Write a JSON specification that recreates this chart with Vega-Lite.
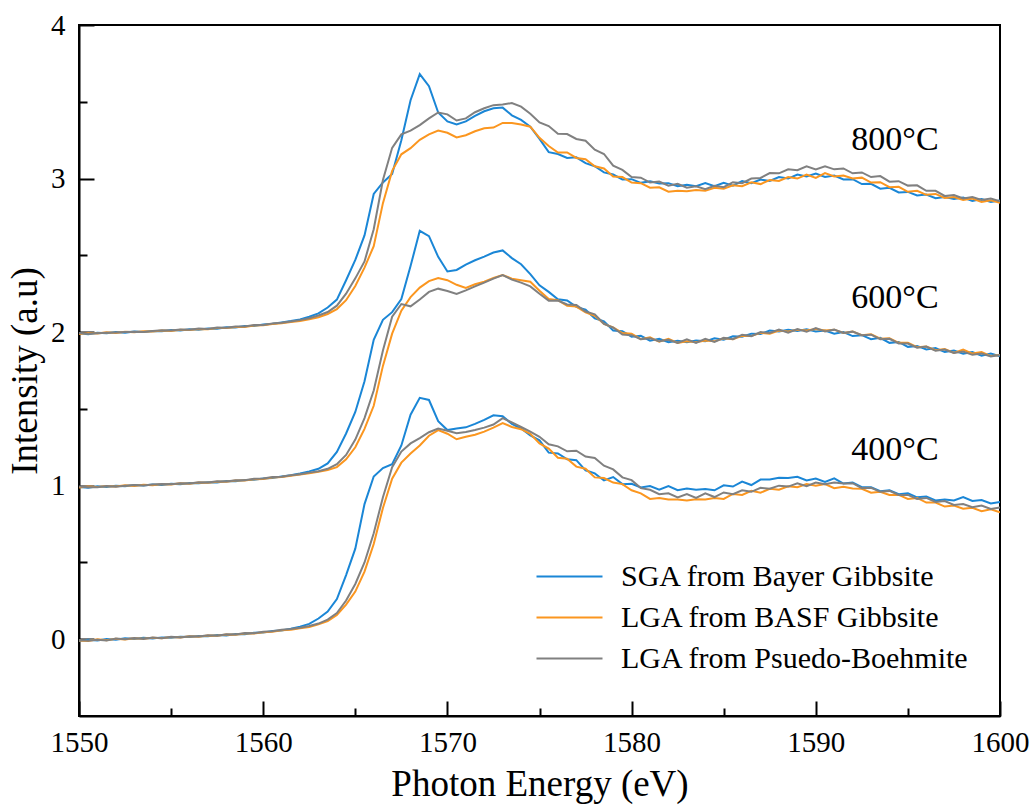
{
  "$schema": "https://vega.github.io/schema/vega-lite/v6.json",
  "width": 921,
  "height": 691,
  "autosize": "none",
  "padding": {"left": 79, "top": 25, "right": 35, "bottom": 90},
  "background": "white",
  "config": {
    "view": {"stroke": "black", "strokeWidth": 2},
    "font": "Liberation Serif",
    "axis": {"labelFont": "Liberation Serif", "titleFont": "Liberation Serif"},
    "legend": {"labelFont": "Liberation Serif", "titleFont": "Liberation Serif"},
    "text": {"font": "Liberation Serif"},
    "style": {"guide-label": {"font": "Liberation Serif"}, "guide-title": {"font": "Liberation Serif"}}
  },
  "datasets": {
    "series": [
      {"key": "b4", "sample": "SGA from Bayer Gibbsite", "temp": "400"},
      {"key": "o4", "sample": "LGA from BASF Gibbsite", "temp": "400"},
      {"key": "g4", "sample": "LGA from Psuedo-Boehmite", "temp": "400"},
      {"key": "b6", "sample": "SGA from Bayer Gibbsite", "temp": "600"},
      {"key": "o6", "sample": "LGA from BASF Gibbsite", "temp": "600"},
      {"key": "g6", "sample": "LGA from Psuedo-Boehmite", "temp": "600"},
      {"key": "b8", "sample": "SGA from Bayer Gibbsite", "temp": "800"},
      {"key": "o8", "sample": "LGA from BASF Gibbsite", "temp": "800"},
      {"key": "g8", "sample": "LGA from Psuedo-Boehmite", "temp": "800"}
    ],
    "temps": [
      {"e": 1594.3, "y": 3.25, "label": "800°C"},
      {"e": 1594.3, "y": 2.22, "label": "600°C"},
      {"e": 1594.3, "y": 1.23, "label": "400°C"}
    ],
    "spectra": [
      {"e": 1550, "b4": -0.012, "o4": -0.008, "g4": -0.005, "b6": 0.992, "o6": 0.988, "g6": 0.995, "b8": 1.992, "o8": 1.988, "g8": 1.995},
      {"e": 1550.5, "b4": -0.004, "o4": -0.012, "g4": -0.010, "b6": 0.987, "o6": 0.994, "g6": 0.990, "b8": 1.986, "o8": 1.994, "g8": 1.990},
      {"e": 1551, "b4": -0.008, "o4": 0.000, "g4": -0.003, "b6": 0.996, "o6": 0.991, "g6": 0.989, "b8": 1.996, "o8": 1.991, "g8": 1.993},
      {"e": 1551.5, "b4": 0.001, "o4": -0.006, "g4": -0.009, "b6": 0.992, "o6": 0.997, "g6": 0.998, "b8": 1.992, "o8": 1.999, "g8": 1.996},
      {"e": 1552, "b4": -0.003, "o4": 0.003, "g4": 0.004, "b6": 0.999, "o6": 0.994, "g6": 0.993, "b8": 2.000, "o8": 1.995, "g8": 1.998},
      {"e": 1552.5, "b4": 0.006, "o4": -0.001, "g4": 0.000, "b6": 0.996, "o6": 1.002, "g6": 1.000, "b8": 1.996, "o8": 2.002, "g8": 2.001},
      {"e": 1553, "b4": 0.002, "o4": 0.007, "g4": 0.008, "b6": 1.004, "o6": 0.998, "g6": 1.005, "b8": 2.004, "o8": 1.999, "g8": 2.003},
      {"e": 1553.5, "b4": 0.009, "o4": 0.003, "g4": 0.002, "b6": 1.001, "o6": 1.006, "g6": 1.001, "b8": 2.001, "o8": 2.006, "g8": 2.000},
      {"e": 1554, "b4": 0.005, "o4": 0.010, "g4": 0.011, "b6": 1.008, "o6": 1.003, "g6": 1.007, "b8": 2.008, "o8": 2.004, "g8": 2.007},
      {"e": 1554.5, "b4": 0.012, "o4": 0.006, "g4": 0.007, "b6": 1.005, "o6": 1.010, "g6": 1.011, "b8": 2.006, "o8": 2.010, "g8": 2.012},
      {"e": 1555, "b4": 0.010, "o4": 0.014, "g4": 0.016, "b6": 1.012, "o6": 1.008, "g6": 1.009, "b8": 2.013, "o8": 2.008, "g8": 2.010},
      {"e": 1555.5, "b4": 0.016, "o4": 0.011, "g4": 0.012, "b6": 1.010, "o6": 1.015, "g6": 1.016, "b8": 2.010, "o8": 2.015, "g8": 2.017},
      {"e": 1556, "b4": 0.014, "o4": 0.019, "g4": 0.020, "b6": 1.017, "o6": 1.013, "g6": 1.014, "b8": 2.018, "o8": 2.014, "g8": 2.015},
      {"e": 1556.5, "b4": 0.021, "o4": 0.016, "g4": 0.017, "b6": 1.015, "o6": 1.020, "g6": 1.022, "b8": 2.016, "o8": 2.021, "g8": 2.023},
      {"e": 1557, "b4": 0.019, "o4": 0.024, "g4": 0.026, "b6": 1.023, "o6": 1.019, "g6": 1.020, "b8": 2.024, "o8": 2.019, "g8": 2.021},
      {"e": 1557.5, "b4": 0.027, "o4": 0.022, "g4": 0.023, "b6": 1.021, "o6": 1.026, "g6": 1.029, "b8": 2.022, "o8": 2.027, "g8": 2.030},
      {"e": 1558, "b4": 0.025, "o4": 0.030, "g4": 0.033, "b6": 1.030, "o6": 1.025, "g6": 1.027, "b8": 2.031, "o8": 2.026, "g8": 2.028},
      {"e": 1558.5, "b4": 0.034, "o4": 0.029, "g4": 0.031, "b6": 1.028, "o6": 1.033, "g6": 1.036, "b8": 2.030, "o8": 2.034, "g8": 2.037},
      {"e": 1559, "b4": 0.033, "o4": 0.037, "g4": 0.040, "b6": 1.037, "o6": 1.033, "g6": 1.035, "b8": 2.039, "o8": 2.034, "g8": 2.036},
      {"e": 1559.5, "b4": 0.042, "o4": 0.038, "g4": 0.039, "b6": 1.038, "o6": 1.042, "g6": 1.045, "b8": 2.040, "o8": 2.043, "g8": 2.046},
      {"e": 1560, "b4": 0.043, "o4": 0.046, "g4": 0.049, "b6": 1.047, "o6": 1.043, "g6": 1.046, "b8": 2.050, "o8": 2.045, "g8": 2.047},
      {"e": 1560.5, "b4": 0.053, "o4": 0.049, "g4": 0.052, "b6": 1.050, "o6": 1.053, "g6": 1.057, "b8": 2.054, "o8": 2.053, "g8": 2.056},
      {"e": 1561, "b4": 0.057, "o4": 0.058, "g4": 0.062, "b6": 1.060, "o6": 1.056, "g6": 1.058, "b8": 2.063, "o8": 2.058, "g8": 2.061},
      {"e": 1561.5, "b4": 0.068, "o4": 0.062, "g4": 0.066, "b6": 1.068, "o6": 1.064, "g6": 1.068, "b8": 2.072, "o8": 2.066, "g8": 2.069},
      {"e": 1562, "b4": 0.082, "o4": 0.071, "g4": 0.075, "b6": 1.079, "o6": 1.072, "g6": 1.075, "b8": 2.083, "o8": 2.073, "g8": 2.078},
      {"e": 1562.5, "b4": 0.100, "o4": 0.080, "g4": 0.086, "b6": 1.093, "o6": 1.080, "g6": 1.085, "b8": 2.100, "o8": 2.083, "g8": 2.090},
      {"e": 1563, "b4": 0.135, "o4": 0.097, "g4": 0.102, "b6": 1.110, "o6": 1.090, "g6": 1.094, "b8": 2.122, "o8": 2.097, "g8": 2.108},
      {"e": 1563.5, "b4": 0.180, "o4": 0.118, "g4": 0.128, "b6": 1.145, "o6": 1.102, "g6": 1.110, "b8": 2.160, "o8": 2.118, "g8": 2.131},
      {"e": 1564, "b4": 0.262, "o4": 0.158, "g4": 0.170, "b6": 1.220, "o6": 1.121, "g6": 1.140, "b8": 2.212, "o8": 2.150, "g8": 2.172},
      {"e": 1564.5, "b4": 0.418, "o4": 0.225, "g4": 0.252, "b6": 1.340, "o6": 1.172, "g6": 1.200, "b8": 2.338, "o8": 2.208, "g8": 2.250},
      {"e": 1565, "b4": 0.590, "o4": 0.310, "g4": 0.360, "b6": 1.480, "o6": 1.250, "g6": 1.300, "b8": 2.470, "o8": 2.300, "g8": 2.350},
      {"e": 1565.5, "b4": 0.880, "o4": 0.440, "g4": 0.500, "b6": 1.680, "o6": 1.370, "g6": 1.440, "b8": 2.630, "o8": 2.420, "g8": 2.460},
      {"e": 1566, "b4": 1.060, "o4": 0.620, "g4": 0.690, "b6": 1.950, "o6": 1.520, "g6": 1.620, "b8": 2.900, "o8": 2.560, "g8": 2.670},
      {"e": 1566.5, "b4": 1.115, "o4": 0.855, "g4": 0.925, "b6": 2.080, "o6": 1.780, "g6": 1.880, "b8": 2.975, "o8": 2.840, "g8": 2.990},
      {"e": 1567, "b4": 1.140, "o4": 1.045, "g4": 1.120, "b6": 2.130, "o6": 1.990, "g6": 2.100, "b8": 3.030, "o8": 3.050, "g8": 3.200},
      {"e": 1567.5, "b4": 1.262, "o4": 1.150, "g4": 1.222, "b6": 2.215, "o6": 2.140, "g6": 2.183, "b8": 3.250, "o8": 3.158, "g8": 3.288},
      {"e": 1568, "b4": 1.462, "o4": 1.210, "g4": 1.275, "b6": 2.430, "o6": 2.228, "g6": 2.168, "b8": 3.510, "o8": 3.198, "g8": 3.312},
      {"e": 1568.5, "b4": 1.572, "o4": 1.262, "g4": 1.310, "b6": 2.660, "o6": 2.290, "g6": 2.212, "b8": 3.680, "o8": 3.252, "g8": 3.348},
      {"e": 1569, "b4": 1.558, "o4": 1.325, "g4": 1.348, "b6": 2.625, "o6": 2.332, "g6": 2.262, "b8": 3.602, "o8": 3.288, "g8": 3.392},
      {"e": 1569.5, "b4": 1.420, "o4": 1.362, "g4": 1.372, "b6": 2.490, "o6": 2.352, "g6": 2.283, "b8": 3.430, "o8": 3.312, "g8": 3.430},
      {"e": 1570, "b4": 1.362, "o4": 1.338, "g4": 1.358, "b6": 2.395, "o6": 2.338, "g6": 2.268, "b8": 3.372, "o8": 3.298, "g8": 3.418},
      {"e": 1570.5, "b4": 1.372, "o4": 1.302, "g4": 1.342, "b6": 2.405, "o6": 2.308, "g6": 2.248, "b8": 3.352, "o8": 3.268, "g8": 3.378},
      {"e": 1571, "b4": 1.380, "o4": 1.318, "g4": 1.350, "b6": 2.440, "o6": 2.288, "g6": 2.272, "b8": 3.372, "o8": 3.282, "g8": 3.392},
      {"e": 1571.5, "b4": 1.402, "o4": 1.332, "g4": 1.362, "b6": 2.468, "o6": 2.312, "g6": 2.298, "b8": 3.408, "o8": 3.308, "g8": 3.432},
      {"e": 1572, "b4": 1.428, "o4": 1.352, "g4": 1.378, "b6": 2.492, "o6": 2.328, "g6": 2.322, "b8": 3.438, "o8": 3.328, "g8": 3.458},
      {"e": 1572.5, "b4": 1.458, "o4": 1.378, "g4": 1.398, "b6": 2.518, "o6": 2.352, "g6": 2.348, "b8": 3.458, "o8": 3.332, "g8": 3.478},
      {"e": 1573, "b4": 1.452, "o4": 1.408, "g4": 1.440, "b6": 2.532, "o6": 2.372, "g6": 2.372, "b8": 3.462, "o8": 3.362, "g8": 3.482},
      {"e": 1573.5, "b4": 1.402, "o4": 1.382, "g4": 1.412, "b6": 2.482, "o6": 2.348, "g6": 2.342, "b8": 3.412, "o8": 3.362, "g8": 3.492},
      {"e": 1574, "b4": 1.372, "o4": 1.368, "g4": 1.382, "b6": 2.442, "o6": 2.338, "g6": 2.322, "b8": 3.382, "o8": 3.352, "g8": 3.468},
      {"e": 1574.5, "b4": 1.328, "o4": 1.338, "g4": 1.352, "b6": 2.378, "o6": 2.328, "g6": 2.298, "b8": 3.338, "o8": 3.338, "g8": 3.422},
      {"e": 1575, "b4": 1.295, "o4": 1.275, "g4": 1.318, "b6": 2.305, "o6": 2.270, "g6": 2.250, "b8": 3.258, "o8": 3.265, "g8": 3.365},
      {"e": 1575.5, "b4": 1.215, "o4": 1.242, "g4": 1.270, "b6": 2.262, "o6": 2.215, "g6": 2.205, "b8": 3.172, "o8": 3.212, "g8": 3.342},
      {"e": 1576, "b4": 1.210, "o4": 1.182, "g4": 1.256, "b6": 2.214, "o6": 2.208, "g6": 2.206, "b8": 3.160, "o8": 3.170, "g8": 3.292},
      {"e": 1576.5, "b4": 1.172, "o4": 1.176, "g4": 1.224, "b6": 2.206, "o6": 2.172, "g6": 2.180, "b8": 3.134, "o8": 3.170, "g8": 3.290},
      {"e": 1577, "b4": 1.166, "o4": 1.124, "g4": 1.228, "b6": 2.164, "o6": 2.166, "g6": 2.176, "b8": 3.138, "o8": 3.134, "g8": 3.258},
      {"e": 1577.5, "b4": 1.100, "o4": 1.110, "g4": 1.190, "b6": 2.146, "o6": 2.128, "g6": 2.134, "b8": 3.100, "o8": 3.126, "g8": 3.246},
      {"e": 1578, "b4": 1.080, "o4": 1.054, "g4": 1.180, "b6": 2.090, "o6": 2.106, "g6": 2.116, "b8": 3.080, "o8": 3.080, "g8": 3.188},
      {"e": 1578.5, "b4": 1.034, "o4": 1.050, "g4": 1.130, "b6": 2.070, "o6": 2.054, "g6": 2.054, "b8": 3.040, "o8": 3.066, "g8": 3.160},
      {"e": 1579, "b4": 1.056, "o4": 1.020, "g4": 1.106, "b6": 2.010, "o6": 2.030, "g6": 2.030, "b8": 3.026, "o8": 3.014, "g8": 3.084},
      {"e": 1579.5, "b4": 1.010, "o4": 1.010, "g4": 1.054, "b6": 2.006, "o6": 1.994, "g6": 1.984, "b8": 2.994, "o8": 3.010, "g8": 3.056},
      {"e": 1580, "b4": 1.012, "o4": 0.970, "g4": 1.036, "b6": 1.970, "o6": 1.990, "g6": 1.980, "b8": 2.996, "o8": 2.974, "g8": 3.010},
      {"e": 1580.5, "b4": 0.988, "o4": 0.950, "g4": 0.984, "b6": 1.976, "o6": 1.954, "g6": 1.954, "b8": 2.972, "o8": 2.970, "g8": 3.006},
      {"e": 1581, "b4": 0.998, "o4": 0.914, "g4": 0.973, "b6": 1.944, "o6": 1.966, "g6": 1.960, "b8": 2.982, "o8": 2.940, "g8": 2.974},
      {"e": 1581.5, "b4": 0.974, "o4": 0.920, "g4": 0.944, "b6": 1.956, "o6": 1.937, "g6": 1.940, "b8": 2.968, "o8": 2.943, "g8": 2.980},
      {"e": 1582, "b4": 0.998, "o4": 0.910, "g4": 0.950, "b6": 1.934, "o6": 1.956, "g6": 1.950, "b8": 2.970, "o8": 2.914, "g8": 2.954},
      {"e": 1582.5, "b4": 0.970, "o4": 0.910, "g4": 0.924, "b6": 1.943, "o6": 1.930, "g6": 1.930, "b8": 2.950, "o8": 2.920, "g8": 2.966},
      {"e": 1583, "b4": 0.982, "o4": 0.904, "g4": 0.946, "b6": 1.934, "o6": 1.940, "g6": 1.953, "b8": 2.960, "o8": 2.917, "g8": 2.940},
      {"e": 1583.5, "b4": 0.974, "o4": 0.912, "g4": 0.920, "b6": 1.946, "o6": 1.934, "g6": 1.930, "b8": 2.950, "o8": 2.926, "g8": 2.950},
      {"e": 1584, "b4": 0.978, "o4": 0.910, "g4": 0.950, "b6": 1.940, "o6": 1.946, "g6": 1.956, "b8": 2.970, "o8": 2.920, "g8": 2.930},
      {"e": 1584.5, "b4": 0.970, "o4": 0.920, "g4": 0.926, "b6": 1.960, "o6": 1.940, "g6": 1.936, "b8": 2.950, "o8": 2.940, "g8": 2.953},
      {"e": 1585, "b4": 1.002, "o4": 0.914, "g4": 0.956, "b6": 1.950, "o6": 1.960, "g6": 1.963, "b8": 2.973, "o8": 2.934, "g8": 2.944},
      {"e": 1585.5, "b4": 0.994, "o4": 0.946, "g4": 0.944, "b6": 1.973, "o6": 1.954, "g6": 1.954, "b8": 2.954, "o8": 2.956, "g8": 2.976},
      {"e": 1586, "b4": 1.026, "o4": 0.940, "g4": 0.970, "b6": 1.970, "o6": 1.976, "g6": 1.983, "b8": 2.983, "o8": 2.950, "g8": 2.970},
      {"e": 1586.5, "b4": 1.004, "o4": 0.966, "g4": 0.960, "b6": 1.990, "o6": 1.974, "g6": 1.974, "b8": 2.970, "o8": 2.976, "g8": 3.000},
      {"e": 1587, "b4": 1.040, "o4": 0.954, "g4": 0.986, "b6": 1.987, "o6": 1.996, "g6": 2.000, "b8": 2.993, "o8": 2.964, "g8": 3.004},
      {"e": 1587.5, "b4": 1.040, "o4": 0.980, "g4": 0.980, "b6": 2.010, "o6": 1.990, "g6": 1.994, "b8": 2.984, "o8": 2.990, "g8": 3.036},
      {"e": 1588, "b4": 1.052, "o4": 0.974, "g4": 1.000, "b6": 2.004, "o6": 2.010, "g6": 2.016, "b8": 3.010, "o8": 2.984, "g8": 3.034},
      {"e": 1588.5, "b4": 1.050, "o4": 0.996, "g4": 0.994, "b6": 2.016, "o6": 2.004, "g6": 1.996, "b8": 3.000, "o8": 3.010, "g8": 3.060},
      {"e": 1589, "b4": 1.058, "o4": 0.990, "g4": 1.016, "b6": 2.007, "o6": 2.016, "g6": 2.020, "b8": 3.026, "o8": 3.000, "g8": 3.054},
      {"e": 1589.5, "b4": 1.034, "o4": 1.010, "g4": 0.996, "b6": 2.018, "o6": 2.010, "g6": 2.002, "b8": 3.014, "o8": 3.026, "g8": 3.080},
      {"e": 1590, "b4": 1.046, "o4": 1.000, "g4": 1.020, "b6": 2.004, "o6": 2.020, "g6": 2.026, "b8": 3.033, "o8": 3.004, "g8": 3.060},
      {"e": 1590.5, "b4": 1.024, "o4": 1.010, "g4": 1.010, "b6": 2.010, "o6": 2.010, "g6": 2.004, "b8": 3.010, "o8": 3.036, "g8": 3.080},
      {"e": 1591, "b4": 1.048, "o4": 0.984, "g4": 1.020, "b6": 1.990, "o6": 2.016, "g6": 2.016, "b8": 3.020, "o8": 3.014, "g8": 3.060},
      {"e": 1591.5, "b4": 1.014, "o4": 0.993, "g4": 1.014, "b6": 2.000, "o6": 1.994, "g6": 1.994, "b8": 2.994, "o8": 3.020, "g8": 3.066},
      {"e": 1592, "b4": 1.020, "o4": 0.982, "g4": 1.016, "b6": 1.974, "o6": 2.003, "g6": 2.003, "b8": 2.996, "o8": 3.000, "g8": 3.034},
      {"e": 1592.5, "b4": 0.990, "o4": 0.980, "g4": 0.984, "b6": 1.980, "o6": 1.980, "g6": 1.980, "b8": 2.964, "o8": 3.006, "g8": 3.040},
      {"e": 1593, "b4": 0.990, "o4": 0.954, "g4": 0.986, "b6": 1.954, "o6": 1.986, "g6": 1.983, "b8": 2.966, "o8": 2.974, "g8": 3.010},
      {"e": 1593.5, "b4": 0.964, "o4": 0.960, "g4": 0.960, "b6": 1.963, "o6": 1.957, "g6": 1.954, "b8": 2.934, "o8": 2.976, "g8": 3.016},
      {"e": 1594, "b4": 0.970, "o4": 0.940, "g4": 0.966, "b6": 1.930, "o6": 1.960, "g6": 1.956, "b8": 2.940, "o8": 2.944, "g8": 2.980},
      {"e": 1594.5, "b4": 0.944, "o4": 0.940, "g4": 0.940, "b6": 1.936, "o6": 1.930, "g6": 1.926, "b8": 2.910, "o8": 2.946, "g8": 2.983},
      {"e": 1595, "b4": 0.950, "o4": 0.914, "g4": 0.940, "b6": 1.904, "o6": 1.930, "g6": 1.926, "b8": 2.913, "o8": 2.914, "g8": 2.954},
      {"e": 1595.5, "b4": 0.924, "o4": 0.920, "g4": 0.914, "b6": 1.910, "o6": 1.902, "g6": 1.898, "b8": 2.890, "o8": 2.920, "g8": 2.956},
      {"e": 1596, "b4": 0.930, "o4": 0.890, "g4": 0.920, "b6": 1.887, "o6": 1.906, "g6": 1.906, "b8": 2.896, "o8": 2.894, "g8": 2.920},
      {"e": 1596.5, "b4": 0.904, "o4": 0.890, "g4": 0.894, "b6": 1.896, "o6": 1.882, "g6": 1.878, "b8": 2.872, "o8": 2.900, "g8": 2.920},
      {"e": 1597, "b4": 0.910, "o4": 0.864, "g4": 0.900, "b6": 1.870, "o6": 1.890, "g6": 1.886, "b8": 2.880, "o8": 2.874, "g8": 2.887},
      {"e": 1597.5, "b4": 0.904, "o4": 0.870, "g4": 0.874, "b6": 1.880, "o6": 1.864, "g6": 1.864, "b8": 2.867, "o8": 2.880, "g8": 2.893},
      {"e": 1598, "b4": 0.926, "o4": 0.850, "g4": 0.880, "b6": 1.860, "o6": 1.886, "g6": 1.873, "b8": 2.876, "o8": 2.860, "g8": 2.870},
      {"e": 1598.5, "b4": 0.900, "o4": 0.856, "g4": 0.860, "b6": 1.870, "o6": 1.860, "g6": 1.852, "b8": 2.854, "o8": 2.870, "g8": 2.880},
      {"e": 1599, "b4": 0.906, "o4": 0.834, "g4": 0.870, "b6": 1.847, "o6": 1.870, "g6": 1.860, "b8": 2.866, "o8": 2.847, "g8": 2.860},
      {"e": 1599.5, "b4": 0.884, "o4": 0.846, "g4": 0.848, "b6": 1.860, "o6": 1.844, "g6": 1.842, "b8": 2.847, "o8": 2.858, "g8": 2.870},
      {"e": 1600, "b4": 0.894, "o4": 0.826, "g4": 0.858, "b6": 1.842, "o6": 1.851, "g6": 1.851, "b8": 2.858, "o8": 2.842, "g8": 2.852}
    ]
  },
  "layer": [
    {
      "data": {"name": "spectra"},
      "transform": [
        {"fold": ["b4", "o4", "g4", "b6", "o6", "g6", "b8", "o8", "g8"], "as": ["key", "value"]},
        {"lookup": "key", "from": {"data": {"name": "series"}, "key": "key", "fields": ["sample", "temp"]}}
      ],
      "mark": {"type": "line", "strokeWidth": 2, "clip": true},
      "encoding": {
        "x": {
          "field": "e",
          "type": "quantitative",
          "scale": {"domain": [1550, 1600], "nice": false, "zero": false},
          "axis": {
            "title": "Photon Energy (eV)",
            "values": [1550, 1555, 1560, 1565, 1570, 1575, 1580, 1585, 1590, 1595, 1600],
            "labelExpr": "datum.value % 10 === 0 ? format(datum.value, 'd') : ''",
            "tickSize": {"condition": {"test": "datum.value % 10 === 0", "value": -15}, "value": -8},
            "tickWidth": 2,
            "tickColor": "black",
            "domainColor": "black",
            "domainWidth": 2,
            "labelFont": "Liberation Serif",
            "labelFontSize": 29,
            "labelColor": "black",
            "labelPadding": 27,
            "labelFlush": false,
            "labelOverlap": false,
            "titleFont": "Liberation Serif",
            "titleFontSize": 37,
            "titleFontWeight": "normal",
            "titleColor": "black",
            "titlePadding": 2,
            "grid": false
          }
        },
        "y": {
          "field": "value",
          "type": "quantitative",
          "scale": {"domain": [-0.5, 4], "nice": false, "zero": false},
          "axis": {
            "title": "Intensity (a.u)",
            "values": [0, 0.5, 1, 1.5, 2, 2.5, 3, 3.5, 4],
            "labelExpr": "datum.value % 1 === 0 ? format(datum.value, 'd') : ''",
            "tickSize": {"condition": {"test": "datum.value % 1 === 0", "value": -15}, "value": -8},
            "tickWidth": 2,
            "tickColor": "black",
            "domainColor": "black",
            "domainWidth": 2,
            "labelFont": "Liberation Serif",
            "labelFontSize": 29,
            "labelColor": "black",
            "labelPadding": 29,
            "labelFlush": false,
            "labelOverlap": false,
            "titleFont": "Liberation Serif",
            "titleFontSize": 37,
            "titleFontWeight": "normal",
            "titleColor": "black",
            "titlePadding": 6,
            "grid": false
          }
        },
        "color": {
          "field": "sample",
          "type": "nominal",
          "scale": {
            "domain": ["SGA from Bayer Gibbsite", "LGA from BASF Gibbsite", "LGA from Psuedo-Boehmite"],
            "range": ["#1a86d6", "#fb961f", "#808080"]
          },
          "legend": {
            "title": null,
            "orient": "none",
            "legendX": 473,
            "legendY": 534,
            "padding": 0,
            "symbolType": "M-2,0H2",
            "symbolSize": 1089,
            "symbolStrokeWidth": 2,
            "labelFont": "Liberation Serif",
            "labelFontSize": 30,
            "labelColor": "black",
            "labelLimit": 0,
            "labelOffset": 34,
            "rowPadding": 8
          }
        },
        "detail": {"field": "temp", "type": "nominal"}
      }
    },
    {
      "data": {"name": "temps"},
      "mark": {"type": "text", "font": "Liberation Serif", "fontSize": 34, "align": "center", "baseline": "middle", "color": "black"},
      "encoding": {
        "x": {"field": "e", "type": "quantitative"},
        "y": {"field": "y", "type": "quantitative"},
        "text": {"field": "label", "type": "nominal"}
      }
    }
  ]
}
